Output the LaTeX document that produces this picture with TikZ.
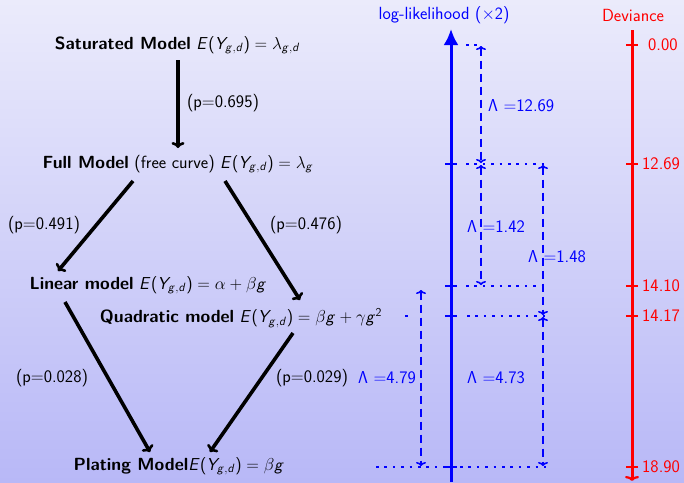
\documentclass[tikz,border=0pt]{standalone}
\usepackage{amsmath}
\usetikzlibrary{calc,arrows.meta}
\DeclareMathAlphabet{\mathsfit}{OT1}{cmss}{m}{sl}
\SetSymbolFont{operators}{normal}{OT1}{cmss}{m}{n}
\newcommand{\sfv}[1]{\mathsfit{#1}}
\newcommand{\EY}{\sfv{E}(\sfv{Y}_{\sfv{g},\sfv{d}})}
\definecolor{bgtop}{RGB}{235,235,251}
\definecolor{bgbot}{RGB}{184,184,247}
\tikzset{
  model/.style={inner sep=0pt, text=black},
  flow/.style={draw=black, line width=3.6pt, -{To[length=6pt,width=13pt,line width=2.6pt]}},
  plabel/.style={inner sep=0pt, text=black},
  llaxis/.style={draw=blue, line width=3pt},
  devaxis/.style={draw=red, line width=3pt},
  lltick/.style={draw=blue, line width=2.6pt},
  devtick/.style={draw=red, line width=2.6pt},
  level/.style={draw=blue, line width=2.6pt, dash pattern=on 2.6pt off 5.8pt},
  lambda/.style={draw=blue, line width=2pt, dash pattern=on 8pt off 5pt, {To[length=4pt,width=10pt,line width=1.6pt]}-{To[length=4pt,width=10pt,line width=1.6pt]}},
  lamtext/.style={inner sep=0pt, text=blue, anchor=west},
  devtext/.style={inner sep=0pt, text=red, anchor=west}
}
\begin{document}
\begin{tikzpicture}[x=1pt,y=-1pt, font=\sffamily\fontsize{17.6}{21}\selectfont]
\shade[top color=bgtop, bottom color=bgbot] (0,0) rectangle (684,482);
\useasboundingbox (0,0) rectangle (684,482);

% model nodes
\node[model] (sat) at (177.5,45) {\textbf{Saturated Model} $\EY=\lambda_{\sfv{g},\sfv{d}}$};
\node[model] (full) at (178,164) {\textbf{Full Model} (free curve) $\EY=\lambda_{\sfv{g}}$};
\node[model] (lin) at (148,285) {\textbf{Linear model} $\EY=\alpha+\beta \sfv{g}$};
\node[model] (quad) at (241,318) {\textbf{Quadratic model} $\EY=\beta \sfv{g}+\gamma \sfv{g}^2$};
\node[model] (plat) at (179,466) {\textbf{Plating Model}$\EY=\beta \sfv{g}$};

% flow arrows
\draw[flow] ($(sat)+(0.5,15)$) -- ($(full)+(0,-16)$);
\draw[flow] ($(full)+(-45,17)$) -- ($(lin)+(-90,-14)$);
\draw[flow] ($(full)+(47,17)$) -- ($(quad)+(59,-18)$);
\draw[flow] ($(lin)+(-83,17)$) -- ($(plat)+(-29,-14)$);
\draw[flow] ($(quad)+(52,15)$) -- ($(plat)+(31,-14)$);

% p-value labels
\node[plabel] (p1) at (223,103) {(p=0.695)};
\node[plabel] (p2) at (44,225) {(p=0.491)};
\node[plabel] (p3) at (306,225) {(p=0.476)};
\node[plabel] (p4) at (52,378) {(p=0.028)};
\node[plabel] (p5) at (312,378) {(p=0.029)};

% axis titles
\node[inner sep=0pt, text=blue] (lltitle) at (444,15) {log-likelihood $(\times 2)$};
\node[inner sep=0pt, text=red] (devtitle) at (633,15) {Deviance};

% level dotted lines
\draw[level] (466,45) -- (480,45);
\draw[level] (466,164) -- (546,164);
\draw[level] (466,286) -- (546,286);
\draw[level] (405,316) -- (409,316);
\draw[level] (467,316) -- (546,316);
\draw[level] (376,467) -- (546,467);

% log-likelihood axis
\draw[llaxis, -{Latex[length=16pt,width=15pt]}] (451,482) -- (451,29);
\foreach \yy in {164,286,316,467} \draw[lltick] (445,\yy) -- (457,\yy);

% deviance axis
\draw[devaxis, -{To[length=5pt,width=14pt,line width=2.2pt]}] (632,30) -- (632,481);
\foreach \yy in {45,164,286,316,467} \draw[devtick] (626,\yy) -- (638,\yy);
\node[devtext] (d0) at (648,45) {0.00};
\node[devtext] (d1) at (642,164) {12.69};
\node[devtext] (d2) at (642,286) {14.10};
\node[devtext] (d3) at (642,316) {14.17};
\node[devtext] (d4) at (642,467) {18.90};

% likelihood ratio arrows
\draw[lambda] (481,46) -- (481,163);
\draw[lambda] (481,165) -- (481,285);
\draw[lambda] (543,165) -- (543,315);
\draw[lambda] (421,290) -- (421,466);
\draw[lambda] (543,317) -- (543,466);

\node[lamtext] (l1) at (488,106) {$\Lambda$ =12.69};
\node[lamtext] (l2) at (467,226) {$\Lambda$ =1.42};
\node[lamtext] (l3) at (528,257) {$\Lambda$ =1.48};
\node[lamtext] (l4) at (358,378) {$\Lambda$ =4.79};
\node[lamtext] (l5) at (467,378) {$\Lambda$ =4.73};
\end{tikzpicture}
\end{document}
